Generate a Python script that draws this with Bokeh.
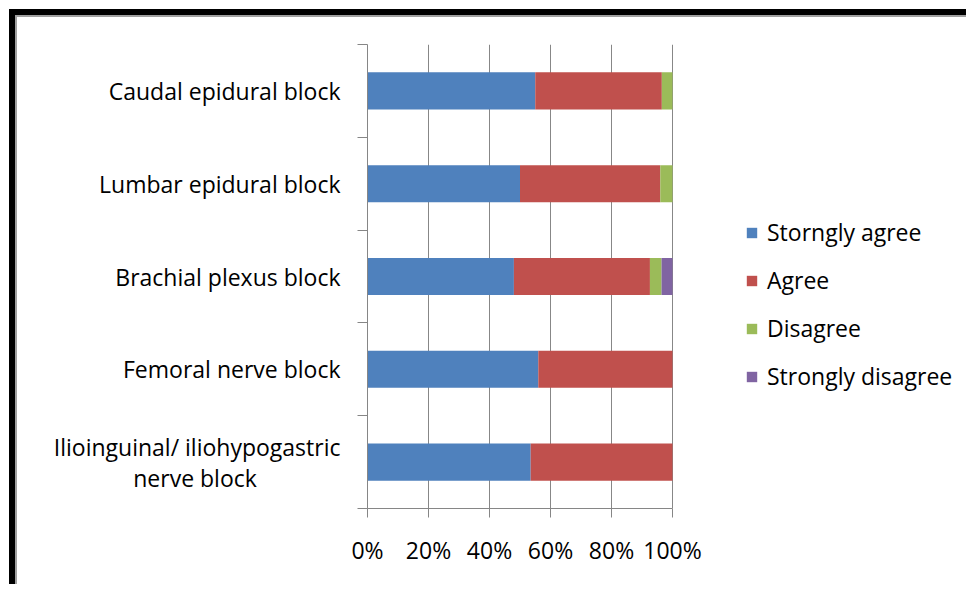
from bokeh.plotting import figure
from bokeh.models import ColumnDataSource, Range1d, FixedTicker, PrintfTickFormatter, Legend, LegendItem
from bokeh.embed import file_html
from bokeh.resources import INLINE

# ---- data (top to bottom as in the chart) ----
categories = [
    "Caudal epidural block",
    "Lumbar epidural block",
    "Brachial plexus block",
    "Femoral nerve block",
    "Ilioinguinal/ iliohypogastric\nnerve block" + "\u00a0" * 14,
]
strongly_agree = [55.0, 50.0, 48.0, 56.0, 53.5]
agree = [41.5, 46.0, 44.6, 44.0, 46.5]
disagree = [3.5, 4.0, 3.8, 0.0, 0.0]
strongly_disagree = [0.0, 0.0, 3.6, 0.0, 0.0]
series_names = ["Storngly agree", "Agree", "Disagree", "Strongly disagree"]
x_ticks = [0, 20, 40, 60, 80, 100]

colors = ["#4F81BD", "#C0504D", "#9BBB59", "#8064A2"]
FONT = "Open Sans"
FS = "23px"
n = len(categories)
y_pos = [n - 0.5 - i for i in range(n)]

# layout (pixels)
W, H = 966, 584
LEFT, TOP = 367, 44
FRAME_H = 464
BOTTOM = H - TOP - FRAME_H
AXIS_PX = 305          # pixel length of the 0-100 % axis
frame_w = W - LEFT
x_end = 100.0 * frame_w / AXIS_PX

src = ColumnDataSource(dict(
    y=y_pos,
    **{series_names[0]: strongly_agree,
       series_names[1]: agree,
       series_names[2]: disagree,
       series_names[3]: strongly_disagree}))

p = figure(width=W, height=H, x_range=Range1d(0, x_end), y_range=Range1d(0, n),
           output_backend="svg", toolbar_location=None,
           min_border_left=LEFT, min_border_right=0, min_border_top=TOP, min_border_bottom=BOTTOM)
p.outline_line_color = None
p.background_fill_color = None
p.border_fill_color = None

rs = p.hbar_stack(series_names, y="y", height=0.4, color=colors, line_color=None, source=src)

# x axis (only spans 0-100 %)
p.xaxis.bounds = (0, 100)
p.xaxis.ticker = FixedTicker(ticks=x_ticks, minor_ticks=[])
p.xaxis.formatter = PrintfTickFormatter(format="%d%%")
p.xaxis.axis_line_color = "#868686"
p.xaxis.major_tick_line_color = "#868686"
p.xaxis.major_tick_in = 0
p.xaxis.major_tick_out = 9
p.xaxis.minor_tick_line_color = None
p.xaxis.major_label_standoff = 16
p.xaxis.major_label_text_font = FONT
p.xaxis.major_label_text_font_size = FS
p.xaxis.major_label_text_color = "black"

p.xgrid.ticker = FixedTicker(ticks=x_ticks, minor_ticks=[])
p.xgrid.grid_line_color = "#878787"
p.xgrid.grid_line_width = 1
p.ygrid.visible = False

# y axis: labels at band centres, tick marks at band boundaries
p.yaxis.ticker = FixedTicker(ticks=y_pos, minor_ticks=list(range(n + 1)))
p.yaxis.major_label_overrides = {y: c for y, c in zip(y_pos, categories)}
p.yaxis.axis_line_color = "#868686"
p.yaxis.major_tick_line_color = None
p.yaxis.minor_tick_line_color = "#868686"
p.yaxis.minor_tick_in = 0
p.yaxis.minor_tick_out = 10
p.yaxis.major_label_standoff = 17
p.yaxis.major_label_text_font = FONT
p.yaxis.major_label_text_font_size = FS
p.yaxis.major_label_text_color = "black"
p.yaxis.major_label_text_line_height = 0.97

legend = Legend(items=[LegendItem(label=nm, renderers=[r]) for nm, r in zip(series_names, rs)],
                location=(378, 116))
legend.padding = 0
legend.margin = 0
legend.border_line_color = None
legend.background_fill_alpha = 0
legend.glyph_width = 13
legend.glyph_height = 13
legend.label_standoff = 9
legend.label_height = 20
legend.spacing = 16
legend.label_text_font = FONT
legend.label_text_font_size = FS
legend.label_text_color = "black"
p.add_layout(legend)

# chart frame (thick black top/left edge with a thin grey inner line)
p.styles = {
    "background-color": "white",
    "box-shadow": "inset 9px 9px 0 0 white, inset 15px 15px 0 0 black, inset 17px 17px 0 0 #a0a0a0",
}

open("out.html", "w").write(file_html(p, INLINE))
